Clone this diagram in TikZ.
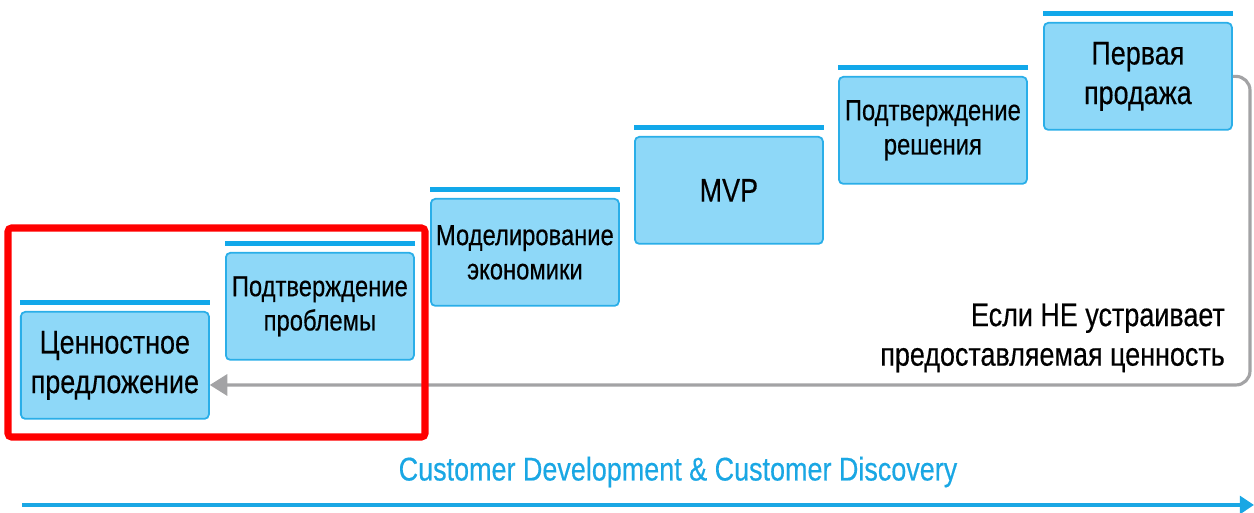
\documentclass[tikz,border=0pt]{standalone}
\usepackage{fontspec}
\setmainfont{Liberation Sans}[FakeStretch=0.82,FakeBold=0.4]
\usetikzlibrary{arrows.meta,calc}
\definecolor{boxfill}{HTML}{8ED8F8}
\definecolor{boxline}{HTML}{2AAEE8}
\definecolor{barblue}{HTML}{12A8EA}
\definecolor{backgray}{HTML}{A3A3A5}
\definecolor{flowblue}{HTML}{1AA7E4}
\begin{document}
\begin{tikzpicture}[
    stage/.style={draw=boxline,fill=boxfill,line width=1pt,rounded corners=2.5pt,
      minimum width=3.76cm,minimum height=2.14cm,align=center,inner sep=0pt,anchor=north west},
    stagebar/.style={barblue,line width=2.8pt},
    big/.style={font=\fontsize{18.7}{22.5}\selectfont},
    small/.style={font=\fontsize{16.5}{19.5}\selectfont}
  ]
  \useasboundingbox (0,0) rectangle (25.08,10.26);
  % stages, from bottom left up to top right
  \node[stage,big]   (s1) at (0.40,4.04) {Ценностное\\предложение};
  \node[stage,small] (s2) at (4.50,5.22) {Подтверждение\\проблемы};
  \node[stage,small] (s3) at (8.60,6.30) {Моделирование\\экономики};
  \node[stage,big]   (s4) at (12.68,7.54) {MVP};
  \node[stage,small] (s5) at (16.76,8.74) {Подтверждение\\решения};
  \node[stage,big]   (s6) at (20.86,9.82) {Первая\\продажа};
  \foreach \i in {1,...,6}
    \draw[stagebar] ([yshift=4.8pt]s\i.north west) -- ([yshift=4.8pt]s\i.north east);
  % way back to the start
  \coordinate (rb) at (25.0,2.56);
  \draw[backgray,line width=1.8pt,rounded corners=8pt,-{Triangle[length=10pt,width=12pt]}]
    (s6.east) -| (rb) -- (rb -| s1.east);
  \node[big,anchor=east,align=right] (note) at (24.62,3.5) {Если НЕ устраивает\\предоставляемая ценность};
  % first two stages
  \draw[red,line width=4pt,rounded corners=2pt] (0.16,1.52) rectangle (8.5,5.7);
  % flow along the bottom
  \coordinate (fa) at (0.44,0.16);
  \coordinate (fb) at (25.08,0.16);
  \node[big,text=flowblue] (flow) at (13.56,0.82) {Customer Development \& Customer Discovery};
  \draw[flowblue,line width=2.3pt,-{Triangle[length=8pt,width=10pt]}] (fa) -- (fb);
\end{tikzpicture}
\end{document}
